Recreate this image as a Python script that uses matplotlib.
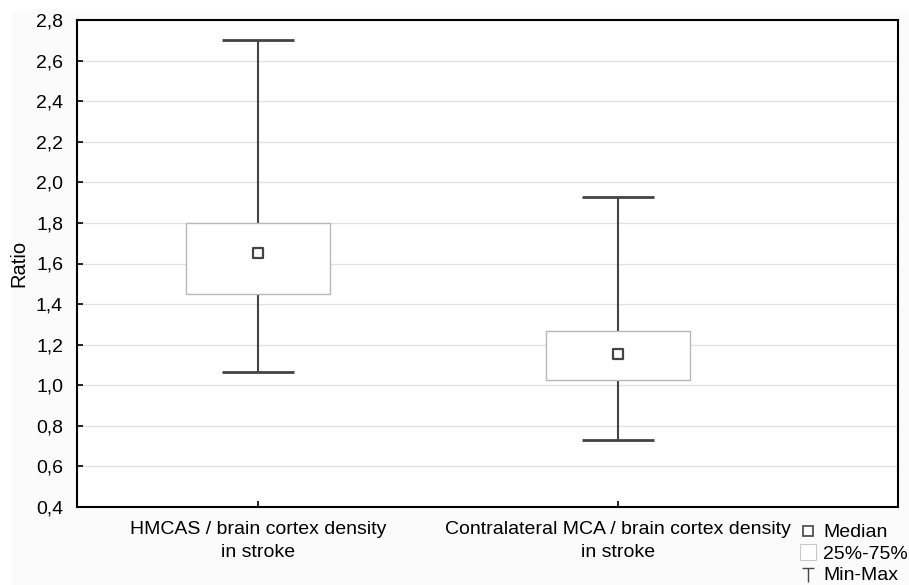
import matplotlib
matplotlib.use("Agg")
import matplotlib.pyplot as plt
from matplotlib.lines import Line2D
from matplotlib.patches import Rectangle
from matplotlib.path import Path
from matplotlib.ticker import FuncFormatter, MultipleLocator
import numpy as np

plt.rcParams['font.family'] = ['Liberation Sans', 'DejaVu Sans']

categories = ["HMCAS / brain cortex density\nin stroke",
              "Contralateral MCA / brain cortex density\nin stroke"]
medians = [1.65, 1.155]
q1 = [1.45, 1.027]
q3 = [1.80, 1.265]
mins = [1.063, 0.73]
maxs = [2.70, 1.93]
legend_labels = ["Median", "25%-75%", "Min-Max"]

FS = 14

fig = plt.figure(figsize=(9.09, 5.85), dpi=100, facecolor='white')
fig.patches.append(Rectangle((12/909, 0), 1, 1 - 11/585, transform=fig.transFigure,
                             facecolor='#fbfbfb', edgecolor='none', zorder=-10))
ax = fig.add_axes([77/909, 1 - 507/585, (898-77)/909, (507-20)/585])
ax.set_facecolor('white')

pos = np.arange(1, len(categories) + 1)
dark = '#444444'

ax.vlines(pos, mins, maxs, color=dark, lw=1.5, zorder=2)
ax.hlines(mins, pos - 0.1, pos + 0.1, color=dark, lw=2, zorder=2)
ax.hlines(maxs, pos - 0.1, pos + 0.1, color=dark, lw=2, zorder=2)
ax.bar(pos, np.array(q3) - np.array(q1), bottom=q1, width=0.4,
       color='white', edgecolor='#b8b8b8', lw=1.0, zorder=3)
ax.scatter(pos, medians, marker='s', s=45, facecolor='white',
           edgecolor=dark, linewidths=1.6, zorder=4)

ax.set_xlim(0.497, 2.778)
ax.set_ylim(0.4, 2.8)
ax.yaxis.set_major_locator(MultipleLocator(0.2))
ax.yaxis.set_major_formatter(FuncFormatter(lambda v, p: f"{v:.1f}".replace('.', ',')))
ax.set_xticks(pos)
ax.set_xticklabels(categories, fontsize=FS, linespacing=1.45)
ax.tick_params(axis='y', labelsize=FS, direction='in', length=4, width=1.2, pad=10)
ax.tick_params(axis='x', direction='in', length=4, width=1.2, pad=10)
ax.grid(axis='y', color='#e2e2e2', lw=1.0, zorder=0)
ax.set_axisbelow(True)
for s in ax.spines.values():
    s.set_linewidth(1.5)
    s.set_color('black')
ax.set_ylabel("Ratio", fontsize=14.5)
ax.yaxis.set_label_coords(-(77 - 28) / 821, 0.5)

T = Path([(-1, 1), (1, 1), (0, 1), (0, -1.3)],
         [Path.MOVETO, Path.LINETO, Path.MOVETO, Path.LINETO])
handles = [
    Line2D([], [], marker='s', linestyle='none', markersize=6.5,
           markerfacecolor='white', markeredgecolor=dark, markeredgewidth=1.2),
    Line2D([], [], marker='s', linestyle='none', markersize=11.5,
           markerfacecolor='white', markeredgecolor='#c8c8c8', markeredgewidth=0.8),
    Line2D([], [], marker=T, linestyle='none', markersize=12,
           markerfacecolor='none', markeredgecolor=dark, markeredgewidth=1.0),
]
leg = fig.legend(handles, legend_labels, loc='lower left',
                 bbox_to_anchor=(789/909, -11/585), frameon=False, fontsize=FS,
                 handlelength=0.8, handletextpad=0.35, labelspacing=0.2,
                 borderpad=0.1)

fig.savefig("out.png", dpi=100, facecolor=fig.get_facecolor())
